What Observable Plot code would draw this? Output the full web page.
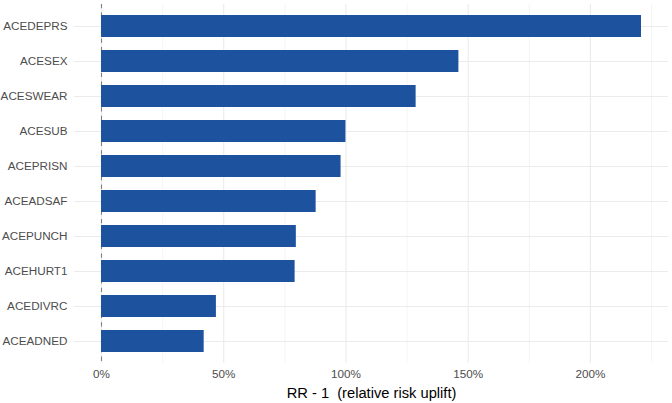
<!DOCTYPE html>
<html>
<head>
<meta charset="utf-8">
<script src="https://cdn.jsdelivr.net/npm/d3@7"></script>
<script src="https://cdn.jsdelivr.net/npm/@observablehq/plot@0.6"></script>
<style>
  html, body { margin: 0; padding: 0; background: #fff; }
  #chart svg { display: block; }
</style>
</head>
<body>
<div id="chart"></div>
<script>
const categories = ["ACEDEPRS","ACESEX","ACESWEAR","ACESUB","ACEPRISN","ACEADSAF","ACEPUNCH","ACEHURT1","ACEDIVRC","ACEADNED"];
const uplift = [2.209, 1.462, 1.287, 1.000, 0.980, 0.878, 0.797, 0.792, 0.470, 0.420];
const majorTicks = [0, 0.5, 1, 1.5, 2];
const minorTicks = [0.25, 0.75, 1.25, 1.75, 2.25];
const tickLabels = ["0%", "50%", "100%", "150%", "200%"];

const data = categories.map((c, i) => ({category: c, value: uplift[i]}));
const maxV = d3.max(uplift);
const pad = maxV * 0.05;

const font = "'Liberation Sans', Arial, Helvetica, sans-serif";

const plot = Plot.plot({
  width: 672,
  height: 403,
  marginLeft: 74,
  marginRight: 4,
  marginTop: 4,
  marginBottom: 40,
  style: {fontFamily: font, background: "#fff"},
  x: {domain: [-pad, maxV + pad], label: null, axis: null},
  y: {domain: categories, paddingInner: 0.38, paddingOuter: 0.31, label: null, axis: null},
  marks: [
    Plot.ruleX(minorTicks, {stroke: "#EBEBEB", strokeWidth: 0.55}),
    Plot.ruleX(majorTicks, {stroke: "#EBEBEB", strokeWidth: 1.1}),
    Plot.tickY(categories, {y: d => d, stroke: "#EBEBEB", strokeWidth: 1.1}),
    Plot.ruleX([0], {stroke: "#7f7f7f", strokeWidth: 1.1, strokeDasharray: "4.3,4.3"}),
    Plot.barX(data, {y: "category", x1: 0, x2: "value", fill: "#1c529e"}),
    Plot.axisY({tickSize: 0, tickPadding: 7, fontSize: 11.7, color: "#4d4d4d", label: null, fill: "#4d4d4d"}),
    Plot.axisX(majorTicks, {tickSize: 0, tickPadding: 6, fontSize: 11.7, fill: "#4d4d4d",
      tickFormat: (d, i) => tickLabels[majorTicks.indexOf(d)], label: null}),
    Plot.text(["RR - 1  (relative risk uplift)"], {
      frameAnchor: "bottom", dy: 34, text: d => d, fontSize: 14.7, fill: "#000", lineAnchor: "bottom"
    })
  ]
});
document.getElementById("chart").appendChild(plot);
</script>
</body>
</html>
